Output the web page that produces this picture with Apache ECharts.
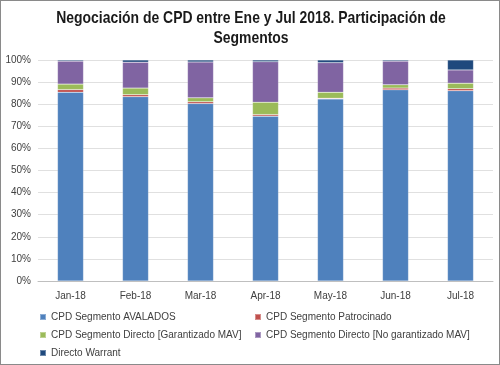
<!DOCTYPE html>
<html><head><meta charset="utf-8">
<script src="https://cdn.jsdelivr.net/npm/echarts@6/dist/echarts.min.js"></script>
<style>html,body{margin:0;padding:0;background:#fff}#c{width:500px;height:365px;box-sizing:border-box;border:1px solid #8a8a8a}</style>
</head><body><div id="c"></div>
<script>
var categories = ['Jan-18','Feb-18','Mar-18','Apr-18','May-18','Jun-18','Jul-18'];
var avalados = [85.4, 83.4, 80.3, 74.6, 82.4, 86.5, 86.1];
var patrocinado = [1.2, 0.9, 0.8, 0.7, 0.3, 0.8, 0.9];
var garantizado = [2.5, 3.0, 1.8, 5.6, 2.7, 1.5, 2.5];
var noGarantizado = [10.4, 11.7, 16.2, 18.3, 13.4, 10.7, 6.0];
var warrant = [0.5, 1.0, 0.9, 0.8, 1.2, 0.5, 4.5];
var yTicks = ['0%','10%','20%','30%','40%','50%','60%','70%','80%','90%','100%'];
var titleLines = ['Negociación de CPD entre Ene y Jul 2018. Participación de','Segmentos'];
var names = ['CPD Segmento AVALADOS','CPD Segmento Patrocinado','CPD Segmento Directo [Garantizado MAV]','CPD Segmento Directo [No garantizado MAV]','Directo Warrant'];
var colors = ['#4F81BD','#C0504D','#9BBB59','#8064A2','#1F497D'];
var datas = [avalados, patrocinado, garantizado, noGarantizado, warrant];

var chart = echarts.init(document.getElementById('c'));
var legendPos = [[38,311],[253,311],[38,329],[253,329],[38,347]];
var legends = names.map(function(n,i){
  return {data:[n], left:legendPos[i][0], top:legendPos[i][1], padding:0, itemWidth:6, itemHeight:6, itemGap:4,
    icon:'rect', textStyle:{fontFamily:'Liberation Sans', fontSize:10, color:'#404040'}};
});
var titleY = [17, 37];
chart.setOption({
  animation:false,
  color:colors,
  graphic:titleLines.map(function(t,i){
    return {type:'text', x:250, y:titleY[i], scaleX:0.82, silent:true,
      style:{text:t, font:'bold 17px "Liberation Sans"', fill:'#1a1a1a', textAlign:'center', textVerticalAlign:'middle', align:'center', verticalAlign:'middle'}};
  }),
  legend:legends,
  grid:{left:37, right:6, top:59, bottom:83},
  xAxis:{type:'category', data:categories,
    axisLine:{lineStyle:{color:'#bfbfbf'}}, axisTick:{show:false},
    axisLabel:{fontFamily:'Liberation Sans', fontSize:10, color:'#404040', margin:10}},
  yAxis:{type:'value', min:0, max:100, interval:10,
    axisLabel:{formatter:function(v){return yTicks[Math.round(v/10)];}, fontFamily:'Liberation Sans', fontSize:10, color:'#404040', margin:7},
    splitLine:{lineStyle:{color:'#e0e0e0'}}, axisLine:{show:false}, axisTick:{show:false}},
  series:datas.map(function(d,i){
    return {name:names[i], type:'bar', stack:'s', data:d, barWidth:'40%',
      itemStyle:{color:colors[i], borderColor:'rgba(255,255,255,0.35)', borderWidth:0.5}};
  })
});
</script></body></html>
